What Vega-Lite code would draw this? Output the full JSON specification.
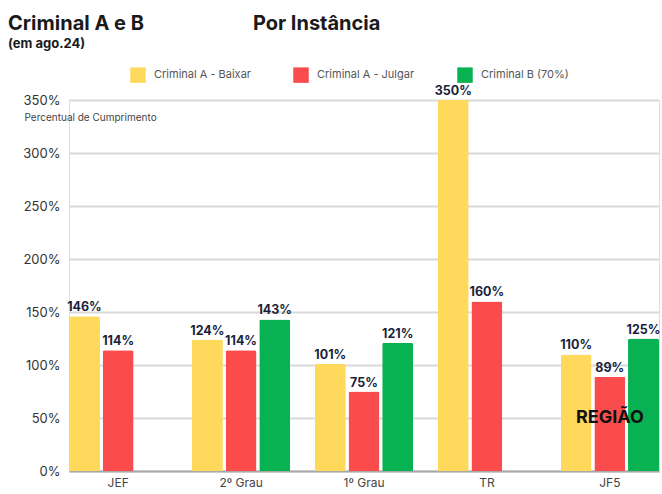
{
  "$schema": "https://vega.github.io/schema/vega-lite/v6.json",
  "autosize": {"type": "none"},
  "width": 590,
  "height": 371,
  "padding": {"left": 69, "top": 100, "right": 3, "bottom": 23},
  "background": "white",
  "title": {
    "text": "Criminal A e B\u00a0\u00a0\u00a0\u00a0\u00a0\u00a0\u00a0\u00a0\u00a0\u00a0\u00a0\u00a0\u00a0\u00a0\u00a0\u00a0\u00a0\u00a0\u00a0\u00a0\u00a0\u00a0\u00a0Por Instância",
    "subtitle": "(em ago.24)",
    "anchor": "start",
    "frame": "group",
    "dx": -61,
    "offset": 16,
    "font": "Inter",
    "fontSize": 20,
    "fontWeight": "bold",
    "color": "#1a1a1a",
    "subtitleFont": "Inter",
    "subtitleFontSize": 13,
    "subtitleFontWeight": "bold",
    "subtitleColor": "#1a1a1a",
    "subtitlePadding": 4
  },
  "datasets": {
    "bars": [
      {"inst": "JEF", "serie": "Criminal A - Baixar", "value": 146, "label": "146%"},
      {"inst": "JEF", "serie": "Criminal A - Julgar", "value": 114, "label": "114%"},
      {"inst": "2º Grau", "serie": "Criminal A - Baixar", "value": 124, "label": "124%"},
      {"inst": "2º Grau", "serie": "Criminal A - Julgar", "value": 114, "label": "114%"},
      {"inst": "2º Grau", "serie": "Criminal B (70%)", "value": 143, "label": "143%"},
      {"inst": "1º Grau", "serie": "Criminal A - Baixar", "value": 101, "label": "101%"},
      {"inst": "1º Grau", "serie": "Criminal A - Julgar", "value": 75, "label": "75%"},
      {"inst": "1º Grau", "serie": "Criminal B (70%)", "value": 121, "label": "121%"},
      {"inst": "TR", "serie": "Criminal A - Baixar", "value": 350, "label": "350%"},
      {"inst": "TR", "serie": "Criminal A - Julgar", "value": 160, "label": "160%"},
      {"inst": "JF5", "serie": "Criminal A - Baixar", "value": 110, "label": "110%"},
      {"inst": "JF5", "serie": "Criminal A - Julgar", "value": 89, "label": "89%"},
      {"inst": "JF5", "serie": "Criminal B (70%)", "value": 125, "label": "125%"}
    ],
    "annot": [
      {"inst": "JF5", "value": 50, "text": "REGIÃO"}
    ]
  },
  "encoding": {
    "x": {
      "field": "inst",
      "type": "nominal",
      "sort": ["JEF", "2º Grau", "1º Grau", "TR", "JF5"],
      "scale": {"paddingInner": 0.2, "paddingOuter": 0},
      "axis": {
        "title": null,
        "labelAngle": 0,
        "labelFont": "Inter",
        "labelFontSize": 12,
        "labelColor": "#444",
        "labelPadding": 6,
        "ticks": false,
        "domain": true,
        "domainColor": "#a8a8a8",
        "domainWidth": 2,
        "grid": false
      }
    },
    "y": {
      "field": "value",
      "type": "quantitative",
      "scale": {"domain": [0, 350], "nice": false},
      "axis": {
        "values": [0, 50, 100, 150, 200, 250, 300, 350],
        "labelExpr": "datum.value + '%'",
        "title": "Percentual de Cumprimento",
        "titleAngle": 0,
        "titleAlign": "left",
        "titleBaseline": "top",
        "titleX": -45,
        "titleY": 12,
        "titleFont": "Inter",
        "titleFontSize": 10,
        "titleFontWeight": "normal",
        "titleColor": "#444",
        "labelFont": "Inter",
        "labelFontSize": 13,
        "labelColor": "#333",
        "labelPadding": 9,
        "ticks": false,
        "domain": false,
        "grid": true,
        "gridColor": "#d9d9d9",
        "gridWidth": 2
      }
    }
  },
  "layer": [
    {
      "data": {"name": "bars"},
      "mark": {"type": "bar", "cornerRadiusTopLeft": 2, "cornerRadiusTopRight": 2},
      "encoding": {
        "xOffset": {
          "field": "serie",
          "type": "nominal",
          "sort": ["Criminal A - Baixar", "Criminal A - Julgar", "Criminal B (70%)"],
          "scale": {"paddingInner": 0.08}
        },
        "color": {
          "field": "serie",
          "type": "nominal",
          "sort": ["Criminal A - Baixar", "Criminal A - Julgar", "Criminal B (70%)"],
          "scale": {
            "domain": ["Criminal A - Baixar", "Criminal A - Julgar", "Criminal B (70%)"],
            "range": ["#FED95B", "#FA4C4C", "#08B152"]
          },
          "legend": {
            "title": null,
            "orient": "none",
            "legendX": 61,
            "legendY": -33,
            "direction": "horizontal",
            "symbolType": "square",
            "symbolSize": 240,
            "symbolStrokeWidth": 0,
            "labelFont": "Inter",
            "labelFontSize": 11,
            "labelColor": "#555",
            "columnPadding": 42,
            "labelOffset": 8
          }
        }
      }
    },
    {
      "data": {"name": "bars"},
      "mark": {"type": "text", "baseline": "bottom", "dy": -2, "font": "Inter", "fontSize": 12.5, "fontWeight": "bold", "color": "#1b1f3b"},
      "encoding": {
        "xOffset": {
          "field": "serie",
          "type": "nominal",
          "sort": ["Criminal A - Baixar", "Criminal A - Julgar", "Criminal B (70%)"],
          "scale": {"paddingInner": 0.08}
        },
        "text": {"field": "label"}
      }
    },
    {
      "data": {"name": "annot"},
      "mark": {"type": "text", "baseline": "middle", "align": "center", "font": "Inter", "fontSize": 18, "fontWeight": "bold", "color": "#111"},
      "encoding": {
        "text": {"field": "text"}
      }
    }
  ]
}
